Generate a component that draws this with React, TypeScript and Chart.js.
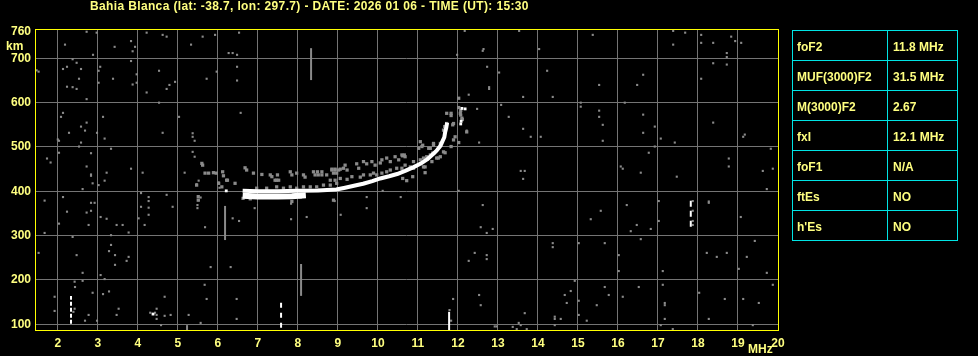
import React, { useEffect, useRef } from 'react';
import { Chart, registerables } from 'chart.js';

Chart.register(...registerables);

type Pt = [number, number];

// ---------- text ----------
const TITLE = 'Bahia Blanca (lat: -38.7, lon: 297.7) - DATE: 2026 01 06 - TIME (UT): 15:30';
const paramNames = ['foF2', 'MUF(3000)F2', 'M(3000)F2', 'fxI', 'foF1', 'ftEs', "h'Es"];
const paramValues = ['11.8 MHz', '31.5 MHz', '2.67', '12.1 MHz', 'N/A', 'NO', 'NO'];

// ---------- axes ----------
const freqMin = 1.43;
const freqMax = 20;
const heightMin = 87;
const heightMax = 764;
const freqTicks = [2, 3, 4, 5, 6, 7, 8, 9, 10, 11, 12, 13, 14, 15, 16, 17, 18, 19, 20];
const heightTicks = [100, 200, 300, 400, 500, 600, 700, 760];

// ---------- ordinary (O) trace, white ----------
const oTraceUpper: Pt[] = [
  [6.62, 401], [7.0, 400], [7.5, 400], [8.0, 401], [8.5, 402], [8.96, 404], [9.18, 408],
  [9.43, 413], [9.63, 417], [9.86, 423], [10.06, 429], [10.28, 434], [10.48, 439], [10.68, 446],
  [10.88, 454], [11.06, 462], [11.23, 472], [11.38, 484], [11.48, 493], [11.56, 502],
  [11.61, 512], [11.66, 522], [11.68, 533], [11.71, 544], [11.73, 555],
];
const oTraceLower: Pt[] = [[6.62, 390], [7.0, 388], [7.5, 388], [7.85, 389], [8.2, 391]];
const whiteDots: Pt[] = [[6.21, 401], [12.07, 552], [12.08, 558], [12.1, 587], [12.18, 586], [4.38, 123]];

// ---------- white sounding marks (vertical) ----------
const markA: Pt[] = [[2.33, 101], [2.33, 164]];
const markB: Pt[] = [[7.58, 92], [7.58, 159]];
const markC: Pt[] = [[11.78, 87], [11.78, 128]];
const markD: Pt[] = [[17.82, 320], [17.82, 384]];

// ---------- gray vertical streaks ----------
const streakA: Pt[] = [[8.33, 651], [8.33, 723]];
const streakB: Pt[] = [[6.18, 290], [6.18, 367]];
const streakC: Pt[] = [[8.08, 164], [8.08, 236]];
const streakD: Pt[] = [[5.23, 87], [5.23, 98]];

// ---------- gray echoes around the trace ----------
const echoPoints: Pt[] = [
  [5.62, 459], [5.68, 441], [5.77, 441], [5.96, 441], [6.12, 444], [6.14, 435], [5.47, 414], [6.02, 418],
  [6.10, 410], [6.24, 425], [6.43, 418], [6.68, 453], [6.72, 448], [6.89, 441], [7.10, 438], [7.31, 437],
  [7.49, 437], [7.43, 425], [7.52, 425], [7.81, 444], [7.85, 437], [7.97, 441], [8.14, 437], [8.18, 432],
  [8.39, 444], [8.49, 444], [8.60, 444], [8.43, 437], [8.51, 437], [8.60, 437], [8.72, 437], [8.85, 448],
  [8.93, 448], [9.02, 448], [8.89, 441], [8.97, 441], [5.60, 463], [5.89, 442], [6.22, 425], [7.35, 433],
  [7.47, 425],
  [6.97, 407], [7.22, 407], [7.47, 410], [7.64, 407], [7.81, 410], [7.97, 407], [8.14, 410], [8.31, 410],
  [8.47, 410], [8.64, 414], [8.81, 414], [8.97, 418],
  [6.63, 384], [6.81, 383], [8.06, 387], [5.51, 388], [5.51, 380], [7.85, 377], [8.89, 380],
  [8.85, 450], [8.93, 450], [9.06, 450], [9.14, 452], [9.18, 459], [9.23, 448], [9.47, 462], [9.52, 452],
  [9.64, 467], [9.72, 462], [9.85, 467], [9.93, 459], [10.06, 464], [10.10, 471], [10.22, 475], [10.31, 467],
  [10.43, 478], [10.52, 471], [10.60, 482], [10.68, 478],
  [8.81, 425], [8.93, 425], [9.06, 429], [9.23, 427], [9.35, 433], [9.56, 432], [9.64, 437], [9.81, 437],
  [9.89, 441], [9.97, 437], [10.10, 441], [10.22, 444], [10.31, 448], [10.47, 452], [10.60, 452], [10.68, 459],
  [10.81, 455], [10.89, 467], [11.06, 471], [11.14, 475], [11.22, 478], [11.31, 482], [11.39, 486], [11.47, 475],
  [11.56, 478], [11.14, 455],
  [11.06, 512], [11.10, 501], [11.27, 497], [11.39, 508], [11.56, 508], [11.64, 489],
  [11.72, 576], [11.72, 553], [11.68, 546], [11.89, 553], [11.93, 523], [11.89, 516], [12.02, 610], [12.06, 576],
  [12.10, 565], [12.22, 534], [11.83, 576], [11.83, 571], [12.02, 589], [12.07, 582], [12.07, 572], [12.11, 562],
  [11.87, 550], [11.67, 546], [11.64, 538], [12.02, 510], [11.83, 501], [11.68, 487], [11.12, 504], [11.02, 497],
  [11.39, 504], [11.31, 497], [11.37, 486], [10.66, 482], [10.62, 480], [11.51, 475], [11.35, 467], [11.18, 455],
  [10.89, 452], [11.18, 442], [10.62, 429], [10.72, 424], [10.87, 433],
];

// ---------- gray noise dots ----------
const noiseUpperLeft: Pt[] = [
  [2.72, 760], [2.97, 758], [4.22, 758], [4.62, 753], [4.72, 749], [5.62, 749], [5.93, 753], [6.53, 758],
  [2.18, 731], [3.42, 726], [3.93, 726], [3.83, 739], [3.87, 716], [2.88, 708], [5.33, 731], [6.27, 712],
  [6.37, 712], [6.48, 708], [2.37, 698], [2.47, 690], [2.23, 681], [2.13, 676], [2.58, 676], [3.06, 681],
  [3.02, 672], [3.83, 694], [1.52, 670], [1.47, 673], [3.97, 664], [4.53, 672], [5.97, 670], [6.48, 681],
  [2.53, 654], [3.38, 654], [3.02, 645], [3.87, 641], [3.97, 645], [4.93, 647], [4.79, 640], [4.72, 631],
  [4.22, 623], [5.72, 654], [6.48, 650], [2.23, 636], [2.37, 635], [2.47, 631], [2.72, 608], [4.53, 600],
  [2.13, 577], [2.08, 568], [3.13, 568], [5.03, 568], [6.57, 577], [2.72, 555], [2.58, 546], [2.68, 537],
  [2.28, 532], [2.98, 532], [4.62, 532], [5.37, 531], [5.37, 523], [5.42, 514], [3.17, 519], [2.00, 517],
  [2.03, 514], [2.58, 510], [2.53, 501], [3.33, 496], [2.03, 487], [2.83, 486], [5.37, 489], [5.42, 478],
  [1.73, 474], [1.82, 465], [2.72, 456], [2.83, 438], [3.22, 442], [3.83, 451], [4.12, 442], [5.17, 442],
];
const noiseUpperRight: Pt[] = [
  [12.17, 762], [13.53, 762], [15.37, 753], [17.38, 762], [17.68, 758], [18.08, 753], [18.83, 749], [18.93, 739],
  [19.08, 735], [18.38, 735], [18.08, 735], [17.38, 731], [12.64, 721], [12.62, 717], [14.03, 721], [11.98, 708],
  [18.72, 712], [18.72, 703], [18.38, 689], [18.72, 686], [12.73, 681], [13.03, 668], [14.23, 672], [16.63, 663],
  [18.08, 654], [15.53, 640], [16.48, 640], [12.78, 635], [12.78, 631], [12.27, 618], [13.63, 613], [14.37, 613],
  [15.07, 600], [15.07, 591], [16.17, 600], [13.08, 595], [12.48, 586], [15.53, 582], [15.53, 568], [16.63, 573],
  [13.27, 568], [15.62, 550], [18.38, 555], [16.92, 546], [13.63, 541], [12.22, 537], [16.63, 532], [13.82, 523],
  [14.07, 523], [17.07, 519], [19.13, 523], [19.17, 528], [12.53, 510], [15.62, 514], [17.42, 510], [16.92, 501],
  [19.82, 496], [16.77, 487], [18.77, 474], [18.77, 456], [16.07, 456], [16.12, 451], [16.57, 442], [17.47, 433],
  [19.62, 446], [19.87, 451], [13.57, 446], [13.67, 446], [13.63, 428],
];
const noiseLowerLeft: Pt[] = [
  [2.83, 435], [2.87, 418], [3.02, 414], [3.17, 424], [2.62, 405], [1.67, 379], [2.13, 387], [2.83, 374],
  [2.92, 374], [2.72, 352], [2.83, 356], [2.23, 354], [2.03, 327], [2.77, 324], [3.07, 342], [3.22, 338],
  [3.47, 324], [3.62, 324], [3.77, 307], [3.33, 301], [1.67, 306], [2.37, 297], [4.08, 396], [4.27, 387],
  [4.27, 378], [4.72, 392], [4.87, 365], [4.08, 365], [4.27, 363], [4.27, 347], [4.02, 339], [4.17, 324],
  [5.52, 424], [5.47, 416], [5.57, 386], [5.52, 380], [5.49, 369], [5.49, 362], [6.02, 420], [6.04, 408],
  [5.68, 319], [6.37, 339], [6.53, 333], [6.92, 362], [7.83, 372], [7.83, 337], [8.22, 342], [8.92, 378],
  [9.07, 347], [9.72, 387], [9.72, 362], [10.12, 401], [10.57, 387], [1.52, 261], [3.33, 279], [3.28, 265],
  [3.43, 256], [3.77, 252], [3.72, 243], [3.43, 234], [2.47, 256], [2.62, 216], [3.07, 211], [3.17, 202],
  [2.42, 196], [2.62, 198], [2.43, 184], [5.82, 229], [6.32, 229], [5.67, 189], [2.87, 171], [3.28, 174],
  [3.13, 168], [1.92, 162], [1.92, 130], [2.42, 135], [2.77, 121], [2.68, 108], [2.98, 108], [3.52, 135],
  [3.47, 121], [4.47, 135], [4.47, 121], [4.67, 162], [4.67, 119], [4.82, 121], [5.27, 121], [5.57, 103],
  [5.72, 157], [6.47, 157], [6.47, 112], [2.39, 128], [4.58, 98], [4.31, 126], [4.43, 126], [4.47, 112],
];
const noiseLowerRight: Pt[] = [
  [12.02, 401], [19.72, 405], [12.62, 369], [12.57, 319], [12.72, 306], [12.87, 315], [16.22, 369], [17.02, 378],
  [15.57, 356], [15.32, 337], [16.47, 324], [16.32, 310], [16.82, 315], [17.02, 333], [16.57, 292], [18.27, 377],
  [18.27, 374], [19.07, 342], [17.87, 378], [17.87, 356], [17.87, 333], [17.87, 324], [14.37, 283], [14.37, 274],
  [15.02, 283], [15.67, 283], [19.42, 288], [12.42, 261], [12.27, 243], [12.72, 256], [12.72, 247], [16.02, 256],
  [18.22, 261], [18.47, 252], [18.72, 261], [19.22, 252], [16.02, 220], [17.12, 220], [19.02, 225], [19.72, 216],
  [14.92, 198], [17.12, 189], [19.87, 189], [15.67, 184], [16.52, 184], [14.82, 175], [14.67, 166], [15.77, 166],
  [12.53, 166], [11.88, 157], [16.12, 162], [15.02, 153], [14.72, 148], [15.47, 143], [12.57, 143], [17.17, 148],
  [17.17, 143], [18.03, 171], [18.67, 157], [19.13, 157], [19.52, 148], [13.67, 125], [15.02, 121], [14.42, 117],
  [14.42, 112], [14.57, 112], [15.22, 108], [11.83, 108], [17.17, 112], [18.27, 112], [13.52, 103], [13.57, 98],
  [13.37, 94], [13.47, 89], [13.72, 89], [12.97, 95], [12.92, 95], [14.42, 98], [17.07, 98], [17.37, 89],
  [19.37, 98], [11.79, 132],
];

// ---------- styling ----------
const FONT = '"Liberation Sans", Arial, sans-serif';
const TEXT = '#ffff80';
const FRAME = '#ffff00';
const GRID = '#747474';
const DOT = '#8a8a8a';
const WHITE = '#ffffff';
const CYAN = '#00e4e4';

const xy = (pts: Pt[]) => pts.map(([x, y]) => ({ x, y }));

const lineSet = (pts: Pt[], color: string, width: number, dash: number[] = []) => ({
  data: xy(pts),
  showLine: true,
  borderColor: color,
  backgroundColor: color,
  borderWidth: width,
  borderDash: dash,
  borderCapStyle: 'butt',
  borderJoinStyle: 'round',
  pointRadius: 0,
  fill: false,
  tension: 0,
});

const dotSet = (pts: Pt[], color: string, r: number) => ({
  data: xy(pts),
  showLine: false,
  backgroundColor: color,
  borderWidth: 0,
  pointStyle: 'rect',
  pointRadius: r,
});

const overlay = {
  id: 'overlay',
  beforeDraw(chart: any) {
    const ctx = chart.ctx;
    ctx.save();
    ctx.fillStyle = '#000';
    ctx.fillRect(0, 0, chart.width, chart.height);
    ctx.restore();
  },
  afterDraw(chart: any) {
    const { ctx, chartArea: a } = chart;
    ctx.save();
    // yellow frame
    ctx.strokeStyle = FRAME;
    ctx.lineWidth = 1;
    ctx.strokeRect(a.left + 0.5, a.top - 0.5, a.right - a.left, a.bottom - a.top + 1);

    ctx.fillStyle = TEXT;
    ctx.font = `bold 12px ${FONT}`;
    ctx.textBaseline = 'alphabetic';
    ctx.textAlign = 'left';
    ctx.letterSpacing = '0.36px';
    ctx.fillText(TITLE, 90, 10);
    ctx.letterSpacing = '0px';
    ctx.fillText('km', 6, 50);
    ctx.fillText('MHz', 748, 353);

    // parameter table
    const tx = 792.5, ty = 30.5, colX = 887.5, tw = 165, rh = 30;
    ctx.strokeStyle = CYAN;
    ctx.lineWidth = 1;
    ctx.strokeRect(tx, ty, tw, rh * paramNames.length);
    for (let i = 1; i < paramNames.length; i++) {
      ctx.beginPath();
      ctx.moveTo(tx, ty + rh * i);
      ctx.lineTo(tx + tw, ty + rh * i);
      ctx.stroke();
    }
    ctx.beginPath();
    ctx.moveTo(colX, ty);
    ctx.lineTo(colX, ty + rh * paramNames.length);
    ctx.stroke();
    ctx.fillStyle = TEXT;
    paramNames.forEach((n, i) => {
      const by = ty + rh * i + 20;
      ctx.fillText(n, 797, by);
      ctx.fillText(paramValues[i], 893, by);
    });
    ctx.restore();
  },
};

export default function App() {
  const ref = useRef<HTMLCanvasElement>(null);
  useEffect(() => {
    document.body.style.margin = '0';
    document.body.style.background = '#000';
    const canvas = ref.current;
    if (!canvas) return;
    const chart = new Chart(canvas, {
      type: 'scatter',
      data: {
        datasets: [
          lineSet(oTraceUpper, WHITE, 4),
          lineSet(oTraceLower, WHITE, 6),
          dotSet(whiteDots, WHITE, 2),
          lineSet(markA, WHITE, 2, [4, 2]),
          lineSet(markB, WHITE, 2, [5, 5]),
          lineSet(markC, WHITE, 2),
          lineSet(markD, WHITE, 2, [6, 4]),
          dotSet(echoPoints, DOT, 2.3),
          lineSet(streakA, DOT, 2),
          lineSet(streakB, DOT, 2),
          lineSet(streakC, DOT, 2),
          lineSet(streakD, DOT, 2),
          dotSet(noiseUpperLeft, DOT, 1.5),
          dotSet(noiseUpperRight, DOT, 1.5),
          dotSet(noiseLowerLeft, DOT, 1.5),
          dotSet(noiseLowerRight, DOT, 1.5),
        ] as any,
      },
      options: {
        responsive: false,
        animation: false,
        events: [],
        layout: { padding: { top: 30, right: 200, left: 0, bottom: 0 } },
        plugins: {
          legend: { display: false },
          tooltip: { enabled: false },
          title: { display: false },
        },
        scales: {
          x: {
            type: 'linear',
            position: 'bottom',
            min: freqMin,
            max: freqMax,
            afterBuildTicks: (s: any) => {
              s.ticks = freqTicks.map((v) => ({ value: v }));
            },
            afterFit: (s: any) => {
              s.height = 26;
            },
            grid: { color: GRID, lineWidth: 1, drawTicks: false },
            border: { display: false },
            ticks: {
              color: TEXT,
              font: { family: FONT, size: 12, weight: 'bold' },
              padding: 6,
              maxRotation: 0,
              autoSkip: false,
              callback: (v: any) => String(v),
            },
          },
          y: {
            type: 'linear',
            position: 'left',
            min: heightMin,
            max: heightMax,
            afterBuildTicks: (s: any) => {
              s.ticks = heightTicks.map((v) => ({ value: v }));
            },
            afterFit: (s: any) => {
              s.width = 35;
            },
            grid: {
              color: (c: any) => (c.tick && c.tick.value === 760 ? 'rgba(0,0,0,0)' : GRID),
              lineWidth: 1,
              drawTicks: false,
            },
            border: { display: false },
            ticks: {
              color: TEXT,
              font: { family: FONT, size: 12, weight: 'bold' },
              padding: 4,
              autoSkip: false,
              callback: (v: any) => String(v),
            },
          },
        },
      } as any,
      plugins: [overlay],
    });
    return () => chart.destroy();
  }, []);
  return (
    <div style={{ width: 978, height: 356, background: '#000' }}>
      <canvas ref={ref} width={978} height={356} style={{ display: 'block', width: 978, height: 356 }} />
    </div>
  );
}
